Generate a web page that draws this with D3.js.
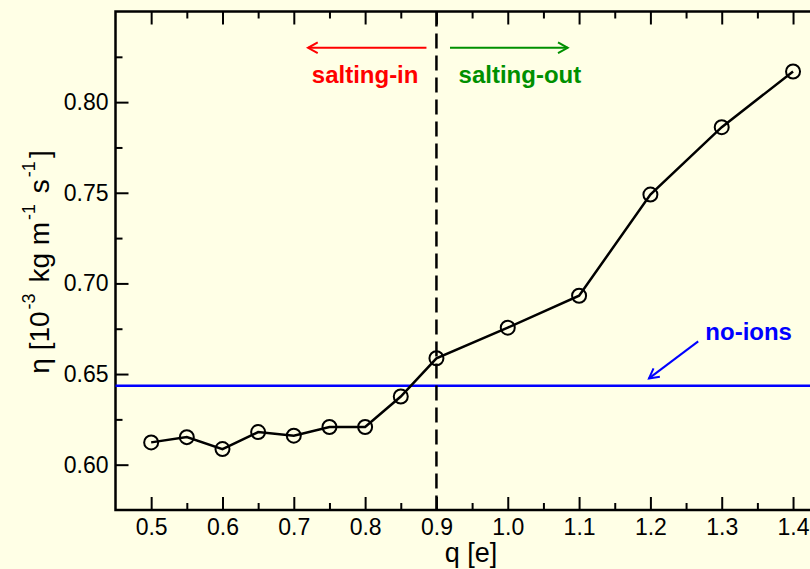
<!DOCTYPE html>
<html>
<head>
<meta charset="utf-8">
<script src="https://cdn.jsdelivr.net/npm/d3@7"></script>
<style>
  html, body { margin: 0; padding: 0; background: #ffffe6; }
  svg { display: block; font-family: "Liberation Sans", Arial, Helvetica, sans-serif; }
</style>
</head>
<body>
<svg id="chart" width="810" height="569"></svg>
<script>
// Ion charge q (e) and measured viscosity (10^-3 kg m^-1 s^-1)
const charges = [0.5, 0.55, 0.6, 0.65, 0.7, 0.75, 0.8, 0.85, 0.9, 1.0, 1.1, 1.2, 1.3, 1.4];
const viscosity = [0.6123, 0.6152, 0.6086, 0.6180, 0.6160, 0.6208, 0.6208, 0.6376, 0.6587, 0.6756, 0.6932, 0.7490, 0.7862, 0.8169];
// Reference viscosity of the ion-free system
const noIonsViscosity = 0.6435;
// Charge separating the salting-in and salting-out regimes
const thresholdCharge = 0.9;

const xMajorTicks = [0.5, 0.6, 0.7, 0.8, 0.9, 1.0, 1.1, 1.2, 1.3, 1.4];
const xMinorTicks = [0.55, 0.65, 0.75, 0.85, 0.95, 1.05, 1.15, 1.25, 1.35];
const yMajorTicks = [0.60, 0.65, 0.70, 0.75, 0.80];
const yMinorTicks = [0.625, 0.675, 0.725, 0.775, 0.825];

const svg = d3.select("#chart");
const pLeft = 115.5, pRight = 828.7, pTop = 11.5, pBottom = 510;

const x = d3.scaleLinear().domain([0.45, 1.45]).range([pLeft, pRight]);
const y = d3.scaleLinear().domain([0.575, 0.85]).range([pBottom, pTop]);

const black = "#000";
const majorLen = 13, minorLen = 7;

// Tick marks and labels (ticks point into the plot on every side)
function styleAxis(g) {
  g.select(".domain").remove();
  g.selectAll(".tick line").attr("stroke", black).attr("stroke-width", 2);
  g.selectAll(".tick text").attr("fill", black);
}

svg.append("g").attr("transform", `translate(0,${pBottom})`)
  .call(d3.axisBottom(x).tickValues(xMajorTicks).tickFormat(d3.format(".1f"))
    .tickSize(-majorLen).tickPadding(9))
  .call(styleAxis)
  .selectAll("text").attr("font-size", 23);
svg.append("g").attr("transform", `translate(0,${pBottom})`)
  .call(d3.axisBottom(x).tickValues(xMinorTicks).tickFormat("").tickSize(-minorLen))
  .call(styleAxis);
svg.append("g").attr("transform", `translate(0,${pTop})`)
  .call(d3.axisTop(x).tickValues(xMajorTicks).tickFormat("").tickSize(-majorLen))
  .call(styleAxis);
svg.append("g").attr("transform", `translate(0,${pTop})`)
  .call(d3.axisTop(x).tickValues(xMinorTicks).tickFormat("").tickSize(-minorLen))
  .call(styleAxis);

svg.append("g").attr("transform", `translate(${pLeft},0)`)
  .call(d3.axisLeft(y).tickValues(yMajorTicks).tickFormat(d3.format(".2f"))
    .tickSize(-majorLen).tickPadding(7))
  .call(styleAxis)
  .selectAll("text").attr("font-size", 23);
svg.append("g").attr("transform", `translate(${pLeft},0)`)
  .call(d3.axisLeft(y).tickValues(yMinorTicks).tickFormat("").tickSize(-minorLen))
  .call(styleAxis);

// Frame
svg.append("rect")
  .attr("x", pLeft).attr("y", pTop)
  .attr("width", pRight - pLeft).attr("height", pBottom - pTop)
  .attr("fill", "none").attr("stroke", black).attr("stroke-width", 2.5);

// No-ions reference line
svg.append("line")
  .attr("x1", pLeft).attr("x2", pRight)
  .attr("y1", y(noIonsViscosity)).attr("y2", y(noIonsViscosity))
  .attr("stroke", "#0000ff").attr("stroke-width", 2.5);

// Threshold dashed line
svg.append("line")
  .attr("x1", x(thresholdCharge)).attr("x2", x(thresholdCharge))
  .attr("y1", pTop).attr("y2", pBottom)
  .attr("stroke", black).attr("stroke-width", 2.5)
  .attr("stroke-dasharray", "15,7");

// Viscosity series
const pts = charges.map((c, i) => [c, viscosity[i]]);
svg.append("path")
  .datum(pts)
  .attr("fill", "none").attr("stroke", black).attr("stroke-width", 2.5)
  .attr("d", d3.line().x(d => x(d[0])).y(d => y(d[1])));
svg.append("g").selectAll("circle").data(pts).join("circle")
  .attr("cx", d => x(d[0])).attr("cy", d => y(d[1])).attr("r", 7)
  .attr("fill", "none").attr("stroke", black).attr("stroke-width", 2);

// Arrow helper: line with an open chevron head at (x2,y2)
function arrow(x1, y1, x2, y2, color) {
  const g = svg.append("g").attr("stroke", color).attr("stroke-width", 2).attr("fill", "none");
  g.append("line").attr("x1", x1).attr("y1", y1).attr("x2", x2).attr("y2", y2);
  const a = Math.atan2(y2 - y1, x2 - x1), L = 11, w = 0.5;
  g.append("path").attr("d",
    `M${x2 - L * Math.cos(a - w)},${y2 - L * Math.sin(a - w)}L${x2},${y2}L${x2 - L * Math.cos(a + w)},${y2 - L * Math.sin(a + w)}`);
}

// Regime annotations
arrow(x(0.886), y(0.830), x(0.72), y(0.830), "#ff0000");
arrow(x(0.919), y(0.830), x(1.084), y(0.830), "#009000");
svg.append("text").attr("x", x(0.80)).attr("y", y(0.8103))
  .attr("text-anchor", "middle").attr("font-size", 24).attr("font-weight", "bold")
  .attr("fill", "#ff0000").text("salting-in");
svg.append("text").attr("x", x(1.017)).attr("y", y(0.8103))
  .attr("text-anchor", "middle").attr("font-size", 24).attr("font-weight", "bold")
  .attr("fill", "#009000").text("salting-out");

svg.append("text").attr("x", x(1.277)).attr("y", y(0.669))
  .attr("font-size", 24).attr("font-weight", "bold")
  .attr("fill", "#0000ff").text("no-ions");
arrow(x(1.267), y(0.668), x(1.198), y(0.6476), "#0000ff");

// Axis titles
svg.append("text").attr("x", (pLeft + pRight) / 2 - 1).attr("y", 562)
  .attr("text-anchor", "middle").attr("font-size", 27).attr("fill", black)
  .text("q [e]");

const yl = svg.append("text")
  .attr("transform", "translate(49,262) rotate(-90)")
  .attr("text-anchor", "middle").attr("font-size", 28).attr("fill", black);
const parts = [["η [10", false], ["-3", true], [" kg m", false], ["-1", true], [" s", false], ["-1", true], ["]", false]];
parts.forEach(([t, sup], i) => {
  const ts = yl.append("tspan").text(t);
  if (sup) ts.attr("font-size", 18).attr("dy", -14).attr("dx", 2);
  else if (i > 0) ts.attr("dy", 14).attr("dx", 3);
});
</script>
</body>
</html>
